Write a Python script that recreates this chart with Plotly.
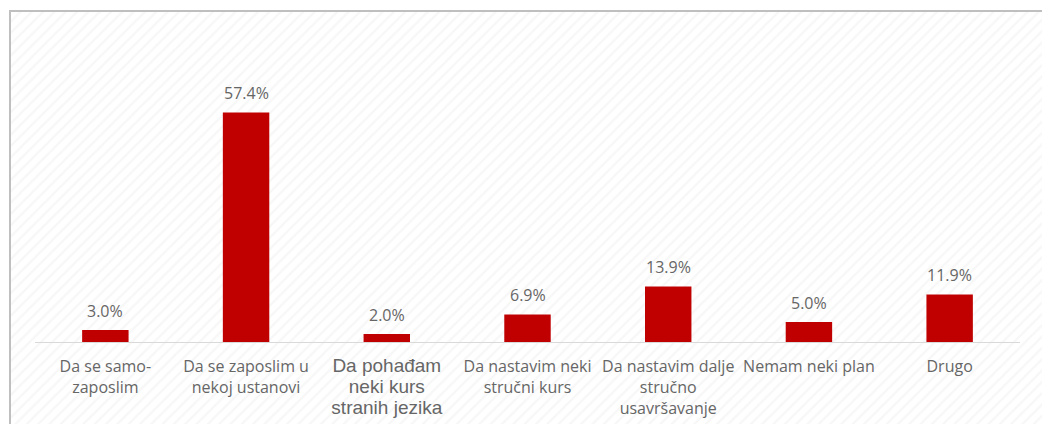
import plotly.graph_objects as go

categories = ["Da se samo-<br>zaposlim",
              "Da se zaposlim u<br>nekoj ustanovi",
              "<span style='font-family:Liberation Sans;font-size:19px'>Da pohađam<br>neki kurs<br>stranih jezika</span>",
              "Da nastavim neki<br>stručni kurs",
              "Da nastavim dalje<br>stručno<br>usavršavanje",
              "Nemam neki plan",
              "Drugo"]
values = [3.0, 57.4, 2.0, 6.9, 13.9, 5.0, 11.9]
labels = [f"{v:.1f}%" for v in values]

# page body adds an 8px offset; figure is sized to fill the window
OFF = 8
W, H = 1050 - OFF, 424 - OFF
ml, mt = 10 - OFF, 11 - OFF
pw, ph = W - ml, H - mt
px0, px1 = 35 - OFF, 1020 - OFF
py_top, py_base = 62 - OFF, 342 - OFF

fig = go.Figure()
# background striped panel
fig.add_trace(go.Bar(x=[0.5], y=[1], width=[1], xaxis="x", yaxis="y",
                     marker=dict(color="white", line=dict(width=0),
                                 pattern=dict(shape="/", fgcolor="#efefef", bgcolor="white",
                                              size=8, solidity=0.3)),
                     hoverinfo="skip", showlegend=False))
xs = list(range(len(values)))
fig.add_trace(go.Bar(x=xs, y=values, xaxis="x2", yaxis="y2",
                     marker=dict(color="#C00000", line=dict(width=0)),
                     width=0.33, showlegend=False))

annotations = [dict(x=x, y=v, xref="x2", yref="y2", text=t, showarrow=False,
                    yanchor="bottom", yshift=6,
                    font=dict(family="Open Sans", size=16, color="#666666"))
               for x, v, t in zip(xs, values, labels)]

fig.update_layout(
    width=W, height=H,
    margin=dict(l=ml, r=0, t=mt, b=0, autoexpand=False),
    paper_bgcolor="white", plot_bgcolor="rgba(0,0,0,0)",
    xaxis=dict(domain=[0, 1], range=[0, 1], visible=False, fixedrange=True),
    yaxis=dict(domain=[0, 1], range=[0, 1], visible=False, fixedrange=True),
    xaxis2=dict(anchor="y2",
                domain=[(px0 - ml) / pw, (px1 - ml) / pw],
                range=[-0.5, len(values) - 0.5],
                tickvals=xs, ticktext=categories, showgrid=False, zeroline=False,
                showline=True, linecolor="#d9d9d9", linewidth=1, ticks="",
                ticklabelstandoff=10,
                tickfont=dict(family="Open Sans", size=16, color="#666666"),
                automargin=False),
    yaxis2=dict(anchor="x2",
                domain=[(H - py_base) / ph, (H - py_top) / ph],
                range=[0, 70], visible=False, showgrid=False),
    annotations=annotations,
    shapes=[dict(type="rect", xref="paper", yref="paper", x0=0, x1=1.05, y0=-0.05, y1=1,
                 line=dict(color="#bfbfbf", width=2), fillcolor="rgba(0,0,0,0)", layer="above")],
)
fig.write_html("out.html")
